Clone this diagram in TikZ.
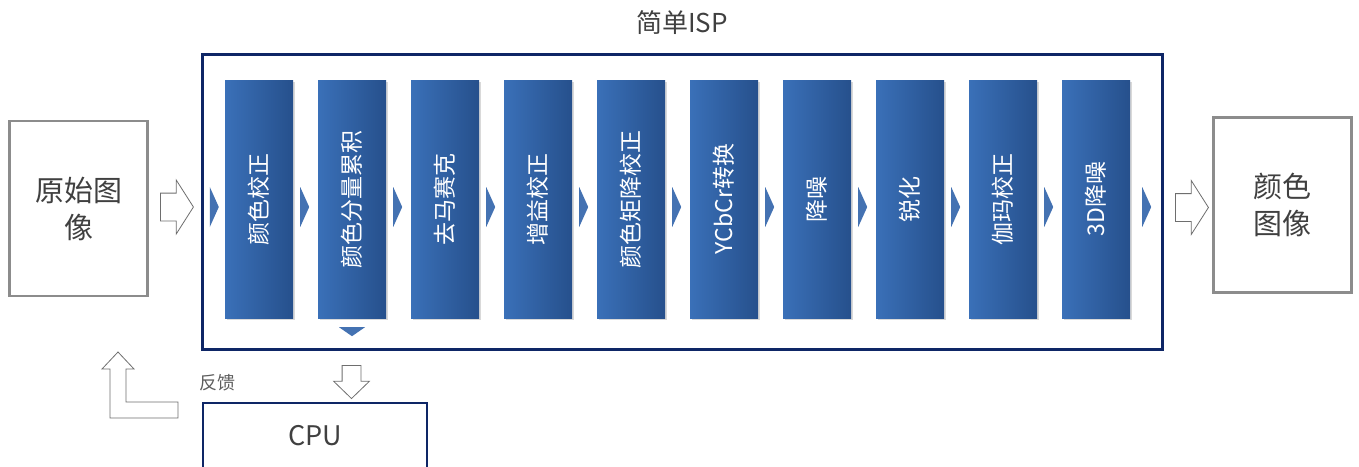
\documentclass[tikz,border=0pt]{standalone}
\usepackage{fontspec}
\setmainfont{Noto Sans CJK SC}
\usetikzlibrary{shapes.geometric}
\usetikzlibrary{shapes.arrows}
\usetikzlibrary{shadows}
\usetikzlibrary{calc}
\definecolor{ispnavy}{RGB}{14,38,102}
\definecolor{barleft}{RGB}{58,112,184}
\definecolor{barright}{RGB}{38,80,140}
\definecolor{tickblue}{RGB}{68,114,178}
\definecolor{boxgray}{RGB}{140,140,140}
\definecolor{txtgray}{RGB}{64,64,64}
\definecolor{linegray}{RGB}{110,110,110}
\tikzstyle{stage} = [rectangle, draw=none, left color=barleft, right color=barright,
                     minimum width=68pt, minimum height=238pt, inner sep=0pt, text=white,
                     font=\fontsize{23pt}{23pt}\selectfont,
                     drop shadow={opacity=0.3, shadow xshift=1.5pt, shadow yshift=-2pt}]
\tikzstyle{picbox} = [rectangle, draw=boxgray, line width=2.5pt, align=center,
                      minimum width=138pt, minimum height=175pt, text=txtgray,
                      font=\fontsize{29pt}{37pt}\selectfont]
\tikzstyle{fatarrow} = [single arrow, draw=linegray, fill=white, line width=0.8pt,
                        inner xsep=0pt, inner ysep=13.5pt, single arrow tip angle=115,
                        minimum height=33pt, minimum width=53pt, single arrow head extend=13pt]
\tikzstyle{tick} = [fill=tickblue]

\begin{document}
\begin{tikzpicture}[x=1pt,y=-1pt]
    \useasboundingbox (0,0) rectangle (1359,466);
    \node[draw=ispnavy, line width=3pt, minimum width=960pt, minimum height=295pt] (isp) at (682,201.5) {};
    \node[text=txtgray, font=\fontsize{26pt}{26pt}\selectfont] (title) at (682,23) {简单ISP};
    \node[stage] (cc) at (259,199) {\rotatebox{90}{颜色校正}};
    \node[stage] (acc) [right of=cc,node distance=93pt] {\rotatebox{90}{颜色分量累积}};
    \node[stage] (demosaic) [right of=acc,node distance=93pt] {\rotatebox{90}{去马赛克}};
    \node[stage] (gain) [right of=demosaic,node distance=93pt] {\rotatebox{90}{增益校正}};
    \node[stage] (ccm) [right of=gain,node distance=93pt] {\rotatebox{90}{颜色矩降校正}};
    \node[stage] (ycbcr) [right of=ccm,node distance=93pt] {\rotatebox{90}{YCbCr转换}};
    \node[stage] (denoise) [right of=ycbcr,node distance=93pt] {\rotatebox{90}{降噪}};
    \node[stage] (sharpen) [right of=denoise,node distance=93pt] {\rotatebox{90}{锐化}};
    \node[stage] (gamma) [right of=sharpen,node distance=93pt] {\rotatebox{90}{伽玛校正}};
    \node[stage] (dnr) [right of=gamma,node distance=93pt] {\rotatebox{90}{3D降噪}};
    % small flow marks
    \fill[tick] ($(cc.west)+(-15,-12)$) -- ($(cc.west)+(-6,8)$) -- ($(cc.west)+(-15,28)$) -- cycle;
    \fill[tick] ($(cc.east)+(7,-12)$) -- ($(cc.east)+(16,8)$) -- ($(cc.east)+(7,28)$) -- cycle;
    \fill[tick] ($(acc.east)+(7,-12)$) -- ($(acc.east)+(16,8)$) -- ($(acc.east)+(7,28)$) -- cycle;
    \fill[tick] ($(demosaic.east)+(7,-12)$) -- ($(demosaic.east)+(16,8)$) -- ($(demosaic.east)+(7,28)$) -- cycle;
    \fill[tick] ($(gain.east)+(7,-12)$) -- ($(gain.east)+(16,8)$) -- ($(gain.east)+(7,28)$) -- cycle;
    \fill[tick] ($(ccm.east)+(7,-12)$) -- ($(ccm.east)+(16,8)$) -- ($(ccm.east)+(7,28)$) -- cycle;
    \fill[tick] ($(ycbcr.east)+(7,-12)$) -- ($(ycbcr.east)+(16,8)$) -- ($(ycbcr.east)+(7,28)$) -- cycle;
    \fill[tick] ($(denoise.east)+(7,-12)$) -- ($(denoise.east)+(16,8)$) -- ($(denoise.east)+(7,28)$) -- cycle;
    \fill[tick] ($(sharpen.east)+(7,-12)$) -- ($(sharpen.east)+(16,8)$) -- ($(sharpen.east)+(7,28)$) -- cycle;
    \fill[tick] ($(gamma.east)+(7,-12)$) -- ($(gamma.east)+(16,8)$) -- ($(gamma.east)+(7,28)$) -- cycle;
    \fill[tick] ($(dnr.east)+(12,-12)$) -- ($(dnr.east)+(21,8)$) -- ($(dnr.east)+(12,28)$) -- cycle;
    \fill[tick] ($(acc.south)+(-13,9)$) -- ($(acc.south)+(13,9)$) -- ($(acc.south)+(0,18)$) -- cycle;
    % images in and out
    \node[picbox] (raw) at (78.5,208.5) {原始图\\像};
    \node[picbox] (rgb) at (1282.5,205) {颜色\\图像};
    \node[fatarrow] (inarrow) at (172.5,207) {};
    \node[fatarrow] (outarrow) at (1187.5,207.5) {};
    % statistics to the cpu and back
    \node[draw=ispnavy, line width=2.5pt, minimum width=224pt, minimum height=66pt,
          text=txtgray, font=\fontsize{27pt}{27pt}\selectfont] (cpu) at (315,436) {CPU};
    \node[fatarrow, rotate=-90, minimum width=35pt, inner ysep=9pt, single arrow head extend=8.5pt,
          single arrow tip angle=92] (statarrow) at (351.5,377.5) {};
    \draw[draw=linegray, fill=white, line width=0.8pt] (118,352) -- (134,369) -- (126,369) -- (126,402)
        -- (178,402) -- (178,418) -- (110,418) -- (110,369) -- (102,369) -- cycle;
    \node[text=txtgray!85, font=\fontsize{18pt}{18pt}\selectfont] (feedback) at (217,383) {反馈};
\end{tikzpicture}
\end{document}
